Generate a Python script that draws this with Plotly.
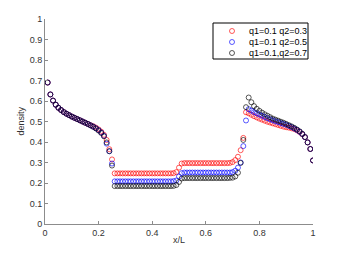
import plotly.graph_objects as go

# sample positions x/L
X_POS = [round(0.01 * i, 2) for i in range(1, 101)]

SERIES_NAMES = ["q1=0.1 q2=0.3", "q1=0.1 q2=0.5", "q1=0.1,q2=0.7"]
SERIES_COLORS = ["#ff0000", "#0000ff", "#000000"]

# density values (x = 0.01 ... 1.00)
RED = [
    0.690, 0.632, 0.602, 0.582, 0.567, 0.556, 0.546, 0.538, 0.531, 0.524,
    0.518, 0.512, 0.506, 0.500, 0.494, 0.488, 0.482, 0.477, 0.470, 0.461,
    0.450, 0.435, 0.410, 0.365, 0.315, 0.247, 0.247, 0.247, 0.247, 0.247,
    0.247, 0.247, 0.247, 0.247, 0.247, 0.247, 0.247, 0.247, 0.247, 0.247,
    0.247, 0.247, 0.247, 0.247, 0.247, 0.247, 0.247, 0.248, 0.253, 0.275,
    0.295, 0.297, 0.297, 0.297, 0.297, 0.297, 0.297, 0.297, 0.297, 0.297,
    0.297, 0.297, 0.297, 0.297, 0.297, 0.297, 0.297, 0.297, 0.298, 0.302,
    0.312, 0.328, 0.360, 0.420, 0.545, 0.540, 0.533, 0.526, 0.520, 0.514,
    0.509, 0.504, 0.499, 0.495, 0.491, 0.487, 0.483, 0.479, 0.475, 0.472,
    0.470, 0.467, 0.463, 0.457, 0.449, 0.438, 0.424, 0.398, 0.366, 0.310,
]
BLUE = [
    0.690, 0.632, 0.602, 0.582, 0.567, 0.556, 0.546, 0.538, 0.531, 0.524,
    0.518, 0.512, 0.506, 0.500, 0.494, 0.488, 0.481, 0.475, 0.467, 0.458,
    0.446, 0.430, 0.392, 0.355, 0.295, 0.208, 0.208, 0.208, 0.208, 0.208,
    0.208, 0.208, 0.208, 0.208, 0.208, 0.208, 0.208, 0.208, 0.208, 0.208,
    0.208, 0.208, 0.208, 0.208, 0.208, 0.208, 0.208, 0.209, 0.212, 0.232,
    0.248, 0.251, 0.251, 0.251, 0.251, 0.251, 0.251, 0.251, 0.251, 0.251,
    0.251, 0.251, 0.251, 0.251, 0.251, 0.251, 0.251, 0.251, 0.251, 0.253,
    0.260, 0.275, 0.300, 0.380, 0.505, 0.560, 0.553, 0.546, 0.540, 0.534,
    0.528, 0.522, 0.516, 0.511, 0.506, 0.501, 0.497, 0.492, 0.488, 0.484,
    0.479, 0.473, 0.466, 0.459, 0.450, 0.439, 0.424, 0.398, 0.366, 0.310,
]
BLACK = [
    0.690, 0.632, 0.602, 0.582, 0.567, 0.556, 0.546, 0.538, 0.531, 0.524,
    0.518, 0.512, 0.506, 0.500, 0.494, 0.488, 0.481, 0.474, 0.466, 0.456,
    0.444, 0.428, 0.398, 0.355, 0.285, 0.185, 0.185, 0.185, 0.185, 0.185,
    0.185, 0.185, 0.185, 0.185, 0.185, 0.185, 0.185, 0.185, 0.185, 0.185,
    0.185, 0.185, 0.185, 0.185, 0.185, 0.185, 0.185, 0.186, 0.190, 0.205,
    0.222, 0.224, 0.224, 0.224, 0.224, 0.224, 0.224, 0.224, 0.224, 0.224,
    0.224, 0.224, 0.224, 0.224, 0.224, 0.224, 0.224, 0.224, 0.225, 0.226,
    0.232, 0.250, 0.298, 0.410, 0.570, 0.617, 0.594, 0.575, 0.562, 0.552,
    0.543, 0.535, 0.528, 0.521, 0.514, 0.509, 0.504, 0.499, 0.494, 0.488,
    0.482, 0.476, 0.469, 0.461, 0.452, 0.440, 0.424, 0.398, 0.366, 0.310,
]

X_TICKS = [0, 0.2, 0.4, 0.6, 0.8, 1]
X_TICK_LABELS = ["0", "0.2", "0.4", "0.6", "0.8", "1"]
Y_TICKS = [0, 0.1, 0.2, 0.3, 0.4, 0.5, 0.6, 0.7, 0.8, 0.9, 1]
Y_TICK_LABELS = ["0", "0.1", "0.2", "0.3", "0.4", "0.5", "0.6", "0.7", "0.8", "0.9", "1"]

FONT = "Liberation Sans, Arial, Helvetica, sans-serif"
AXIS_GREY = "#8c8c8c"
TEXT_COL = "#333333"
FS = 9

fig = go.Figure()
for name, col, ys in zip(SERIES_NAMES, SERIES_COLORS, [RED, BLUE, BLACK]):
    fig.add_trace(go.Scatter(
        x=X_POS, y=ys, mode="markers", name=name, showlegend=False,
        hoverinfo="skip",
        marker=dict(symbol="circle-open", size=5, color=col,
                    line=dict(width=0.65, color=col)),
    ))

W, H = 346, 253
L, R, T, B = 45, 33, 19, 29
PW, PH = W - L - R, H - T - B


def px_x(p):
    return (p - L) / PW


def px_y(p):
    return (H - B - p) / PH


axis_common = dict(
    showgrid=False, zeroline=False, showline=True, linecolor=AXIS_GREY,
    linewidth=1, ticks="inside", ticklen=3, tickcolor=AXIS_GREY, tickwidth=1,
    tickfont=dict(family=FONT, size=FS, color=TEXT_COL), mirror=False,
)
fig.update_xaxes(range=[0, 1], tickvals=X_TICKS, ticktext=X_TICK_LABELS,
                 **axis_common)
fig.update_yaxes(range=[0, 1], tickvals=Y_TICKS, ticktext=Y_TICK_LABELS,
                 **axis_common)

shapes = [dict(type="rect", xref="paper", yref="paper",
               x0=px_x(213), x1=px_x(308), y0=px_y(59), y1=px_y(23),
               line=dict(color="black", width=1), fillcolor="white", layer="above")]
annotations = [
    dict(text="x/L", xref="paper", yref="paper", x=0.5, y=px_y(240),
         xanchor="center", yanchor="middle", showarrow=False,
         font=dict(family=FONT, size=FS, color=TEXT_COL)),
    dict(text="density", xref="paper", yref="paper", x=px_x(20), y=0.5,
         xanchor="center", yanchor="middle", showarrow=False, textangle=-90,
         font=dict(family=FONT, size=FS, color=TEXT_COL)),
]
rows = [31, 42, 53]
for name, col, ry in zip(SERIES_NAMES, SERIES_COLORS, rows):
    yc = px_y(ry)
    xc = px_x(232)
    shapes.append(dict(type="circle", xref="paper", yref="paper",
                       xsizemode="pixel", ysizemode="pixel",
                       xanchor=xc, yanchor=yc, x0=-2.5, x1=2.5, y0=-2.5, y1=2.5,
                       line=dict(color=col, width=0.65), layer="above"))
    annotations.append(dict(text=name, xref="paper", yref="paper",
                            x=px_x(247), y=yc, xanchor="left", yanchor="middle",
                            showarrow=False,
                            font=dict(family=FONT, size=FS, color="black")))

fig.update_layout(
    width=W, height=H,
    margin=dict(l=L, r=R, t=T, b=B, pad=0),
    paper_bgcolor="white", plot_bgcolor="white",
    shapes=shapes, annotations=annotations, showlegend=False,
    hovermode=False,
)

fig.write_html("out.html",
               config={"displayModeBar": False, "staticPlot": True},
               post_script="document.body.style.margin='0';document.body.style.padding='0';")
